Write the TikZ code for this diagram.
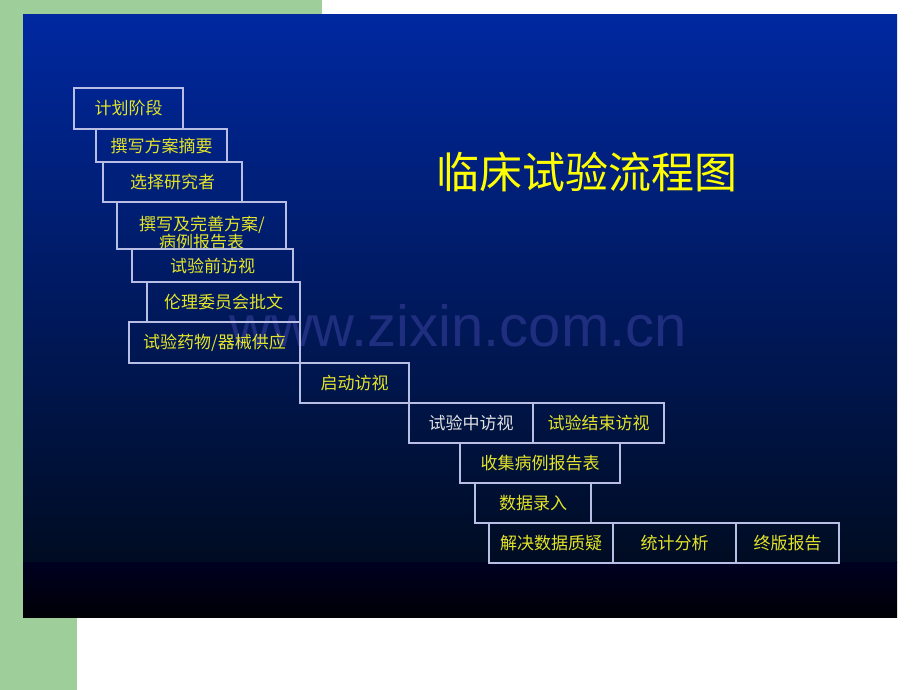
\documentclass[tikz,border=0pt]{standalone}
\usepackage{fontspec}
\newfontfamily\cjk{Noto Sans CJK SC}
\newfontfamily\wmfont{Liberation Sans}
\definecolor{greenbg}{RGB}{158,206,154}
\definecolor{topblue}{RGB}{0,40,160}
\definecolor{midblue}{RGB}{0,32,132}
\definecolor{lowblue}{RGB}{0,12,34}
\definecolor{bandtop}{RGB}{0,0,34}
\definecolor{bandbot}{RGB}{0,0,6}
\definecolor{boxline}{RGB}{185,190,228}
\definecolor{boxtext}{RGB}{228,228,40}
\definecolor{titletext}{RGB}{255,255,0}
\definecolor{whitetext}{RGB}{225,225,225}
\definecolor{wm}{RGB}{31,46,126}
\tikzset{
  stepbox/.style={draw=boxline,line width=1.1pt,inner sep=0pt,outer sep=0pt,
    text=boxtext,font=\cjk\fontsize{17}{17}\selectfont,align=center},
  titlestyle/.style={text=titletext,inner sep=0pt,font=\cjk\fontsize{43}{43}\selectfont},
  wmstyle/.style={text=wm,inner sep=0pt,font=\wmfont\fontsize{58}{58}\selectfont}
}
\begin{document}
\begin{tikzpicture}[x=1pt,y=-1pt]
\useasboundingbox (0,0) rectangle (920,690);
\fill[white] (0,0) rectangle (920,690);
% green frame strips
\fill[greenbg] (0,0) rectangle (322,15);
\fill[greenbg] (0,0) rectangle (77,690);
% blue slide background
\shade[top color=topblue,middle color=midblue,bottom color=lowblue] (23,15) rectangle (897,562);
\shade[top color=bandtop,bottom color=bandbot] (23,562) rectangle (897,617);
% watermark
\node[wmstyle,anchor=base] (wmark) at (458,346) {www.zixin.com.cn};
% title
\node[titlestyle] (title) at (587,172) {临床试验流程图};
% steps
\node[stepbox,minimum width=109pt,minimum height=41pt] (b1) at (128.5,108.5) {计划阶段};
\node[stepbox,minimum width=131pt,minimum height=33pt] (b2) at (161.5,145.5) {撰写方案摘要};
\node[stepbox,minimum width=139pt,minimum height=40pt] (b3) at (172.5,182) {选择研究者};
\node[stepbox,minimum width=169pt,minimum height=47pt] (b4) at (201.5,225.5) {};
\node[text=boxtext,font=\cjk\fontsize{17}{17}\selectfont,inner sep=0pt] (b4a) at (202,225) {撰写及完善方案/};
\node[text=boxtext,font=\cjk\fontsize{17}{17}\selectfont,inner sep=0pt] (b4b) at (201.5,242) {病例报告表};
\node[stepbox,minimum width=161pt,minimum height=33pt] (b5) at (212.5,265.5) {试验前访视};
\node[stepbox,minimum width=153pt,minimum height=40pt] (b6) at (223.5,302) {伦理委员会批文};
\node[stepbox,minimum width=171pt,minimum height=41pt] (b7) at (214.5,342.5) {试验药物/器械供应};
\node[stepbox,minimum width=109pt,minimum height=40pt] (b8) at (354.5,383) {启动访视};
\node[stepbox,minimum width=124pt,minimum height=40pt,text=whitetext] (b9) at (471,423) {试验中访视};
\node[stepbox,minimum width=131pt,minimum height=40pt] (b10) at (598.5,423) {试验结束访视};
\node[stepbox,minimum width=160pt,minimum height=40pt] (b11) at (540,463) {收集病例报告表};
\node[stepbox,minimum width=116pt,minimum height=40pt] (b12) at (533,503) {数据录入};
\node[stepbox,minimum width=124pt,minimum height=40pt] (b13) at (551,543) {解决数据质疑};
\node[stepbox,minimum width=123pt,minimum height=40pt] (b14) at (674.5,543) {统计分析};
\node[stepbox,minimum width=103pt,minimum height=40pt] (b15) at (787.5,543) {终版报告};
\end{tikzpicture}
\end{document}
